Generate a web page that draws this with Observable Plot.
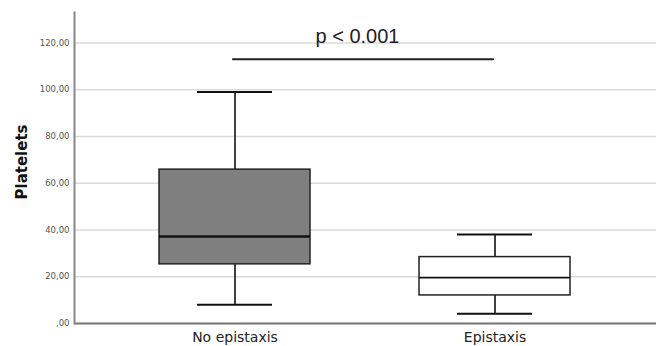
<!DOCTYPE html>
<html><head><meta charset="utf-8">
<script src="https://cdn.jsdelivr.net/npm/d3@7"></script>
<script src="https://cdn.jsdelivr.net/npm/@observablehq/plot@0.6"></script>
<style>body{margin:0;background:#fff;} svg{display:block;}</style>
</head><body><div id="chart"></div>
<script>
const categories = ["No epistaxis", "Epistaxis"];
const whiskerLow = [8.0, 4.2];
const q1 = [25.3, 12.0];
const median = [37.2, 19.6];
const q3 = [65.8, 28.4];
const whiskerHigh = [99.0, 38.1];
const boxFills = ["#7f7f7f", "#ffffff"];
const yTicks = [0, 20, 40, 60, 80, 100, 120];
const pLabel = "p < 0.001";
const pLineY = 113;
const yLabel = "Platelets";

const rows = categories.map((c, i) => ({
  cat: c, lo: whiskerLow[i], q1: q1[i], med: median[i], q3: q3[i], hi: whiskerHigh[i], fill: boxFills[i]
}));
const fmt = v => v === 0 ? ",00" : v.toFixed(2).replace(".", ",");

const chart = Plot.plot({
  width: 659, height: 346,
  marginLeft: 74, marginRight: 3, marginTop: 12, marginBottom: 23,
  style: {fontFamily: "DejaVu Sans, sans-serif", background: "#fff"},
  x: {domain: categories, paddingInner: 0.418, paddingOuter: 0.326, label: null},
  y: {domain: [0, 133], label: null},
  marks: [
    Plot.gridY(yTicks, {stroke: "#d9d9d9", strokeOpacity: 1, strokeWidth: 1.5}),
    Plot.axisY(yTicks, {tickFormat: fmt, tickSize: 0, tickPadding: 5, fontSize: 8.5, fill: "#555", label: null}),
    Plot.axisX({tickSize: 0, tickPadding: 9, fontSize: 14, fill: "#222", label: null}),
    Plot.ruleX(rows, {x: "cat", y1: "q3", y2: "hi", stroke: "#111", strokeWidth: 1.6}),
    Plot.ruleX(rows, {x: "cat", y1: "lo", y2: "q1", stroke: "#111", strokeWidth: 1.6}),
    Plot.tickY(rows, {x: "cat", y: "hi", stroke: "#111", strokeWidth: 2, insetLeft: 38, insetRight: 38}),
    Plot.tickY(rows, {x: "cat", y: "lo", stroke: "#111", strokeWidth: 2, insetLeft: 38, insetRight: 38}),
    Plot.barY(rows, {x: "cat", y1: "q1", y2: "q3", fill: "fill", stroke: "#222", strokeWidth: 1.5}),
    Plot.tickY(rows, {x: "cat", y: "med", stroke: "#111", strokeWidth: (d, i) => i === 0 ? 2.6 : 1.8}),
    Plot.ruleY([0], {stroke: "#777", strokeWidth: 2}),
    Plot.frame({anchor: "left", stroke: "#888", strokeWidth: 2}),
    Plot.line(categories, {x: d => d, y: () => pLineY, stroke: "#222", strokeWidth: 2.2, dx: -2}),
    Plot.text([pLabel], {frameAnchor: "top", dx: -8, dy: 16, fontSize: 20, fill: "#222", fontFamily: "Liberation Sans, sans-serif"}),
    Plot.text([yLabel], {frameAnchor: "left", textAnchor: "middle", rotate: -90, dx: -52, dy: -6, fontSize: 15, fontWeight: "bold", fill: "#111"})
  ]
});
chart.setAttribute("fill", "currentColor");
document.getElementById("chart").append(chart);
</script></body></html>
